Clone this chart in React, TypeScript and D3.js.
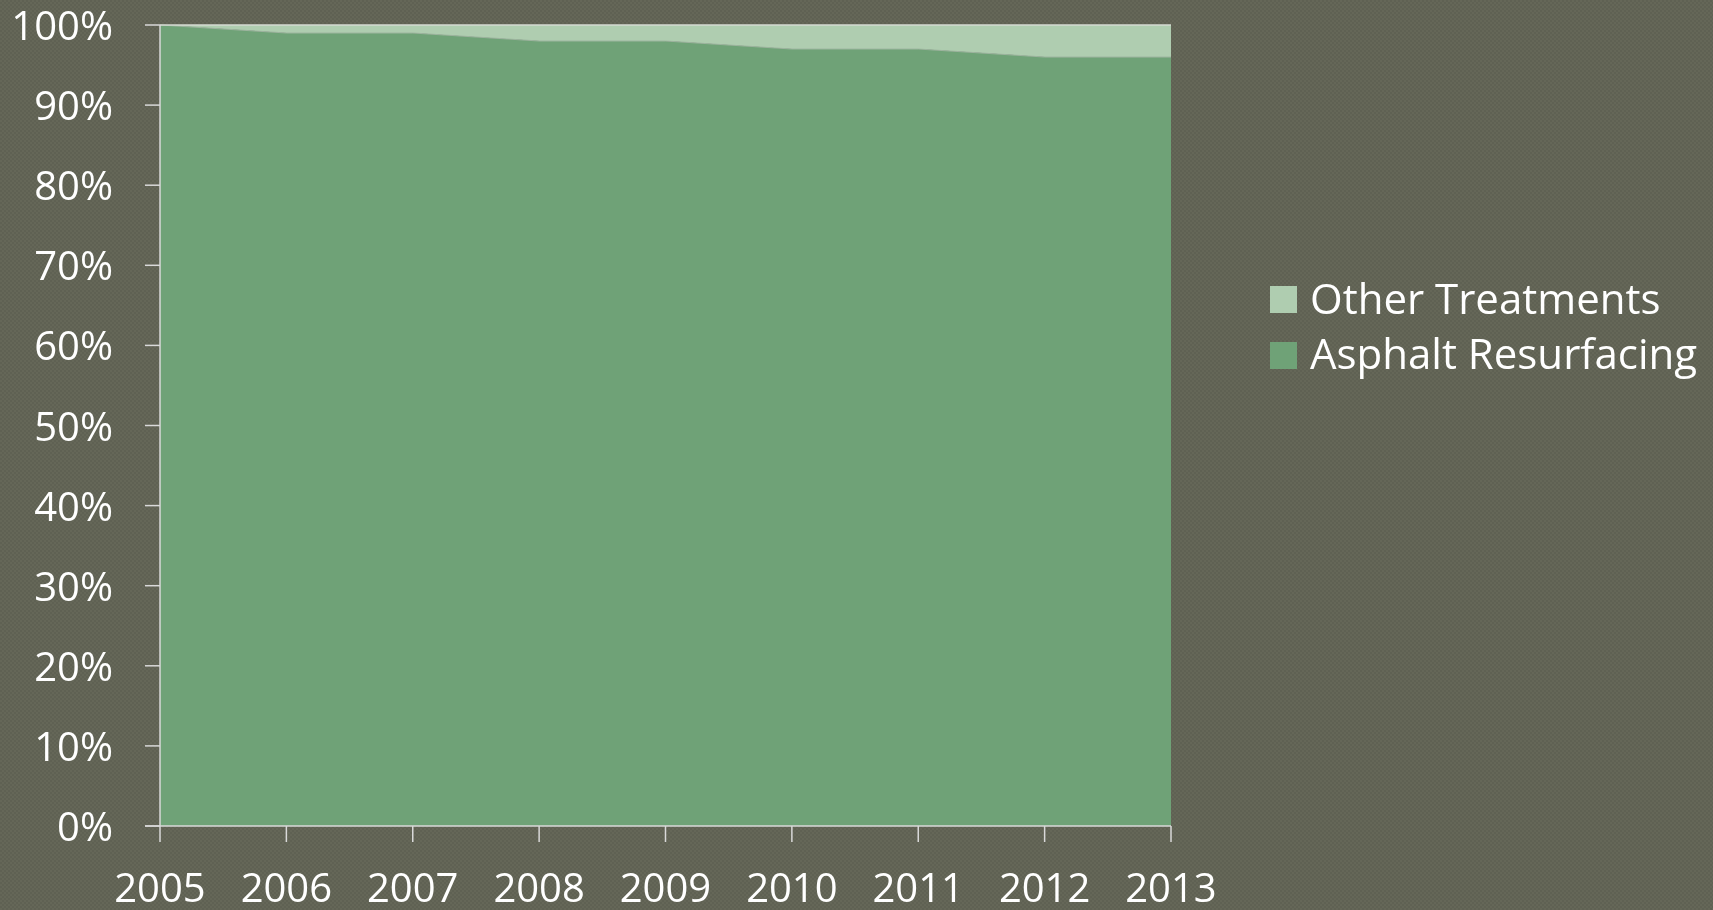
import React from "react";
import * as d3 from "d3";

const years = ["2005", "2006", "2007", "2008", "2009", "2010", "2011", "2012", "2013"];
const asphalt = [100, 99, 99, 98, 98, 97, 97, 96, 96];
const other = [0, 1, 1, 2, 2, 3, 3, 4, 4];
const yTicks = [0, 10, 20, 30, 40, 50, 60, 70, 80, 90, 100];
const seriesNames = ["Other Treatments", "Asphalt Resurfacing"];
const colors = { asphalt: "#6fa277", other: "#afcdb0" };

export default function App() {
  const W = 1713, H = 910;
  const left = 160, right = 1171, top = 25, bottom = 826;
  const x = d3.scalePoint<string>().domain(years).range([left, right]);
  const y = d3.scaleLinear().domain([0, 100]).range([bottom, top]);
  const data = years.map((yr, i) => ({ yr, a: asphalt[i], o: other[i] }));
  const areaA = d3.area<any>().x(d => x(d.yr)!).y0(y(0)).y1(d => y(d.a));
  const areaO = d3.area<any>().x(d => x(d.yr)!).y0(d => y(d.a)).y1(d => y(d.a + d.o));
  const lineB = d3.line<any>().x(d => x(d.yr)!).y(d => y(d.a));
  const font = "'Open Sans', sans-serif";
  return (
    <div style={{ position: "fixed", left: 0, top: 0, width: W, height: H }}>
      <svg width={W} height={H} style={{ display: "block" }}>
        <defs>
          <pattern id="tex" width="4" height="4" patternUnits="userSpaceOnUse">
            <rect width="4" height="4" fill="#5f6153" />
            <rect x="0" y="0" width="2" height="2" fill="#656758" />
            <rect x="2" y="2" width="2" height="2" fill="#656758" />
          </pattern>
        </defs>
        <rect width={W} height={H} fill="url(#tex)" />
        <path d={areaO(data)!} fill={colors.other} />
        <path d={areaA(data)!} fill={colors.asphalt} />
        <path d={lineB(data)!} fill="none" stroke="#9db59f" strokeWidth={1} />
        <line x1={left} x2={right} y1={top} y2={top} stroke="#d4dad2" strokeWidth={1.5} />
        {/* y axis */}
        <line x1={left} x2={left} y1={top} y2={bottom} stroke="#d9d9d9" strokeWidth={1.5} />
        {yTicks.map(t => (
          <g key={t}>
            <line x1={145} x2={left} y1={y(t)} y2={y(t)} stroke="#d9d9d9" strokeWidth={1.5} />
            <text x={113} y={y(t) + 15} textAnchor="end" fill="#ffffff" fontFamily={font} fontSize={40}>
              {t}%
            </text>
          </g>
        ))}
        {/* x axis */}
        <line x1={145} x2={right} y1={bottom} y2={bottom} stroke="#d9d9d9" strokeWidth={1.5} />
        {years.map(yr => (
          <g key={yr}>
            <line x1={x(yr)} x2={x(yr)} y1={bottom} y2={842} stroke="#d9d9d9" strokeWidth={1.5} />
            <text x={x(yr)} y={902} textAnchor="middle" fill="#ffffff" fontFamily={font} fontSize={40}>
              {yr}
            </text>
          </g>
        ))}
        {/* legend */}
        {seriesNames.map((n, i) => (
          <g key={n}>
            <rect x={1270} y={286 + i * 56} width={27} height={27} fill={i === 0 ? colors.other : colors.asphalt} />
            <text x={1310} y={314 + i * 55} fill="#ffffff" fontFamily={font} fontSize={42}>
              {n}
            </text>
          </g>
        ))}
      </svg>
    </div>
  );
}
